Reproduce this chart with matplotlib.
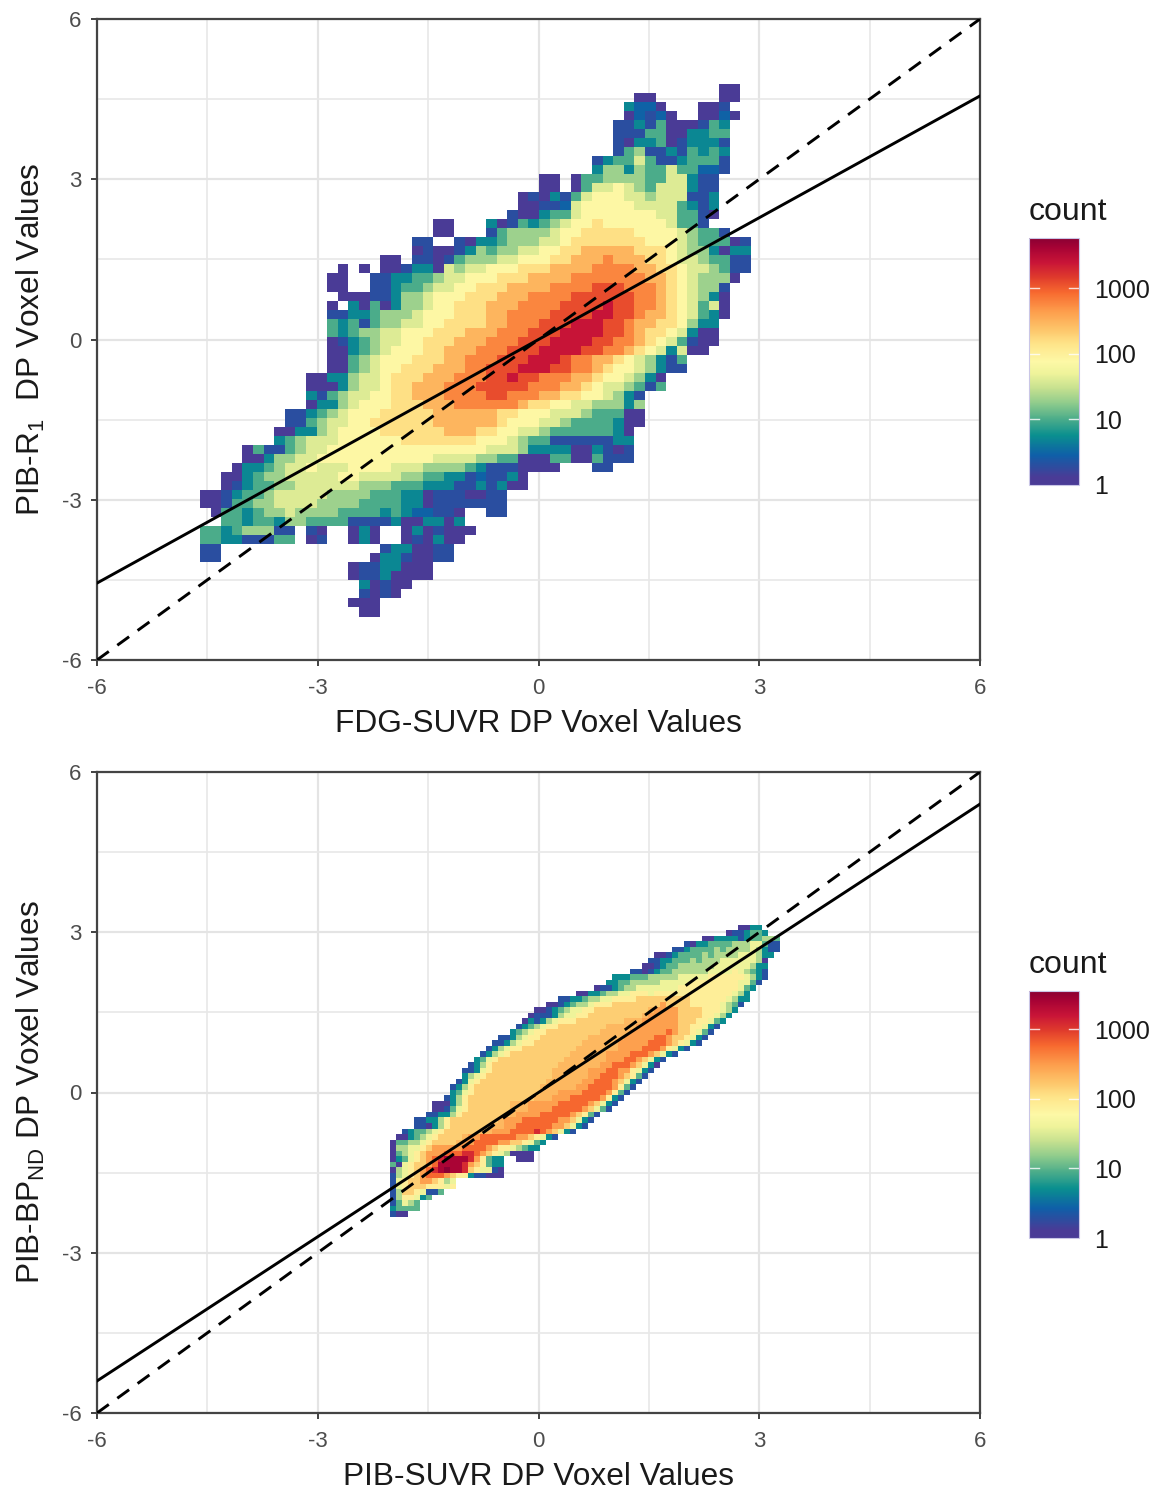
import numpy as np
import matplotlib
matplotlib.use('Agg')
import matplotlib.pyplot as plt
from matplotlib.cm import ScalarMappable
from matplotlib.colors import LinearSegmentedColormap, LogNorm
from matplotlib.ticker import NullLocator

plt.rcParams['font.family'] = ['Liberation Sans', 'DejaVu Sans']
plt.rcParams['mathtext.default'] = 'regular'
plt.rcParams['mathtext.fontset'] = 'custom'
plt.rcParams['mathtext.rm'] = 'Liberation Sans'
plt.rcParams['axes.unicode_minus'] = False

W, H = 1155, 1489

# count class read from the colour of each bin: one character per bin, blank = no voxels
LEVEL_CHARS = '0123456789xabcd'
LEVEL_COUNTS = [1, 2, 3, 5, 10, 20, 40, 80, 150, 300, 210, 600, 1200, 2500, 5000]

# legend colours, bottom to top
RAMP_STOPS = [0.0, 0.03, 0.12, 0.20, 0.27, 0.33, 0.39, 0.45, 0.50, 0.57, 0.63, 0.70, 0.78, 0.84, 0.90, 0.96, 1.0]
RAMP_COLOURS = ['#4a3b96', '#4a3b96', '#0f5fa8', '#0a8f8f', '#4fae8a', '#8ecb8c', '#c5e08f', '#eef39a',
                '#fdf8a6', '#fee58a', '#fdc56a', '#fd9f4d', '#f7692f', '#e03c2c', '#c91537', '#a80335', '#8a0033']

# FDG-SUVR vs PIB-R1, rows run from the top of the cloud down
TOP_X_START = -4.60
TOP_X_BIN = 0.144
TOP_Y_START = 4.785
TOP_Y_BIN = 0.169
TOP_FIRST_BIN = [49, 41, 40, 40, 39, 39, 39, 39, 37, 37, 32, 32, 30, 30, 29, 22, 22, 20, 20, 17,
                 13, 12, 12, 13, 12, 12, 12, 12, 12, 12, 12, 12, 10, 10, 10, 10, 8, 8, 7, 7,
                 4, 4, 3, 2, 2, 0, 0, 1, 2, 0, 0, 0, 0, 14, 14, 15, 15, 14, 15]
TOP_ROWS = [
    "00",
    "00      00",
    "3220   001",
    "02120  0020",
    "11314000143",
    "11144003344",
    "10334013331",
    "14511314343",
    "1344641134441",
    "3553544644221",
    "00 04455554466311",
    "00 04667654666311",
    "0103146777665666113",
    "0011267777766664313",
    "10034467777777664410",
    "00   301434567787777776441",
    "00   14555567788888777765441",
    "11  1033455566788888887776544401",
    "01001354556677889999988876553033",
    "00 11014555667778899" "9a9998876654411",
    "0 0 0013306566777888" "9999aaaa99887665411",
    "00  1133445667778889" "999aaaaaaa998765550",
    "00  1134456677888999" "9aaaabbbaaa9876551",
    "000113556777888999aa" "aabbbbbbaa9876530",
    "0 3040355677888999aa" "aabbbbcbbaa9876460",
    "11334555677788899aaa" "abbbbccbba99876430",
    "43414556677888899aaa" "bbbcccbba99887533",
    "4345566777888999aaab" "bbccccbba98876300",
    "013456677888999aaabb" "bccccbbaa98764100",
    "00345677788999aaabbb" "ccccbbaa98763600",
    "0045677788899aaabbbc" "ccbaa998765314",
    "0045677888999aabbbcc" "cbbaa987765311",
    "00335667888999aaabbc" "bbaaa998776530",
    "0003566788999aaabbbb" "baaa9987665414",
    "3145667788999aaaabba" "aa9988776531",
    "03356777888999aaaaaa" "988776655535",
    "11345677788888999999" "88777666544400",
    "11456677888888999999" "87776654444300",
    "00335677778888889998" "87766544444430",
    "34566677777788888887" "77654411111133",
    "04114566777777777777" "77766653333003101",
    "00355667777777777766" "66554400044004111",
    "03345667666777766655" "55431110000   11",
    "00345566666776666554" "433121130",
    "01344556666665554443" "331131300",
    "00134456666655554443" "301110011",
    "00144556666555544443" "301111111",
    "04434556555544443432" "2110  11",
    "44344355444411113003" "303",
    "443455511 10  030  0" "301000",
    "443311144 01  030  0" "10300",
    "11               1330011",
    "11              03310011",
    "01133000",
    "01130000",
    "30100",
    "1010",
    "000",
    "00",
]

# PIB-SUVR vs PIB-BPND
BOTTOM_X_START = -2.018
BOTTOM_X_BIN = 0.0815
BOTTOM_Y_START = 3.137
BOTTOM_Y_BIN = 0.103
BOTTOM_FIRST_BIN = [58, 56, 52, 49, 47, 44, 43, 42, 40, 37, 36, 34, 31, 28, 26, 24, 23, 22, 21, 20,
                    18, 17, 16, 15, 14, 13, 12, 12, 11, 10, 10, 9, 7, 7, 6, 4, 4, 2, 1, 0,
                    0, 0, 0, 0, 0, 0, 0, 0, 0, 0, 0, 0, 0]
BOTTOM_ROWS = [
    "0033",
    "0113443",
    "0033331344554",
    "1033444455566411",
    "113444454555565311",
    "00134444545555666533",
    "11334445455566666650",
    "001344555555666666533",
    "11013445555556666765431",
    "33344455555666667777776531",
    "33445555566666777777776641",
    "011345566666667777777777643",
    "00334556677767777777777777653",
    "11334556677778888888887777776533",
    "001345567778888888898888777776541",
    "0013456677888888888x99998888777653",
    "0111356677888888888x99999888877653",
    "03135677788888888xxx" "99999988877643",
    "134567788888888xxxxx" "99999998877631",
    "345677888888888xxxxx" "999999a9887641",
    "113567788888888xxxxx" "x99999aa9887631",
    "113567788888888xxxxx" "x99999aaa987631",
    "135677888888888xxxxx" "xx9999aaa97631",
    "135678888888888xxxxx" "x9999aaa98631",
    "346788888888888xxxxx" "xx999aa98631",
    "135788888888888xxxxx" "xx99aaa98630",
    "113678888888888xxxxx" "x999aa997631",
    "356788888888888xxxxx" "x99aaa98741",
    "136788888888888xxxxx" "x99aaa98631",
    "135788888888888xxxxx" "x99aaaa9741",
    "346788888888888xxx99" "99aaaa9741",
    "135788888888888xxx99" "9aaaaa9731",
    "0003578888888xxx9999" "9aaaaa98631",
    "0014678888888xxx9999" "aaaaa98641",
    "11335788888888x9999a" "aaaa98741",
    "11335788888888x999aa" "aaaa998631",
    "1103578888888xx99aaa" "aaa998631",
    "1344567888888xx999aa" "aaba98631",
    "00345678888x99aaaaaa" "9987631",
    "04455678888x99aaaa99" "887643",
    "0556678999" "99aaaa9877" "65433",
    "045678999a" "aabba98765" "0000",
    "0346789abc" "cccb97433  000",
    "4067889acc" "ccb987433",
    "056789abcd" "ccb876610",
    "156789aaa9" "877311000",
    "16788998756",
    "16788877767",
    "158876114",
    "1577634",
    "14654",
    "34444",
    "100",
]

# fitted line slopes, dashed line is identity
TOP_FIT_SLOPE = 0.76
BOTTOM_FIT_SLOPE = 0.90
LINE_ENDS = [-6, 6]
IDENTITY_SLOPE = 1.0

TOP_VMAX = 5800
BOTTOM_VMAX = 3560
LEGEND_TICKS = [1, 10, 100, 1000]
AXIS_TICKS = [-6, -3, 0, 3, 6]
MINOR_TICKS = [-4.5, -1.5, 1.5, 4.5]

ramp = LinearSegmentedColormap.from_list('count_ramp', list(zip(RAMP_STOPS, RAMP_COLOURS)), N=512)


def rows_to_counts(rows, first_bin):
    ncol = max(f + len(r) for f, r in zip(first_bin, rows))
    counts = np.full((len(rows), ncol), np.nan)
    for i, (f, row) in enumerate(zip(first_bin, rows)):
        for j, ch in enumerate(row):
            if ch != ' ':
                counts[i, f + j] = LEVEL_COUNTS[LEVEL_CHARS.index(ch)]
    return counts


def draw_panel(box, cbox, rows, first_bin, x0, dx, y0, dy, vmax, slope, xlabel, ylabel):
    left, top, right, bottom = box
    ax = fig.add_axes([left / W, 1 - bottom / H, (right - left) / W, (bottom - top) / H])
    counts = rows_to_counts(rows, first_bin)
    xedges = x0 + dx * np.arange(counts.shape[1] + 1)
    yedges = y0 - dy * np.arange(counts.shape[0] + 1)
    norm = LogNorm(vmin=1, vmax=vmax)
    ax.pcolormesh(xedges, yedges, np.ma.masked_invalid(counts), cmap=ramp, norm=norm,
                  zorder=2, linewidth=0, rasterized=True)

    ends = np.array(LINE_ENDS)
    ax.plot(ends, IDENTITY_SLOPE * ends, color='black', lw=2.1, ls=(0, (5, 3.6)), zorder=3)
    ax.plot(ends, slope * ends, color='black', lw=2.1, zorder=3)

    ax.set_xlim(-6, 6)
    ax.set_ylim(-6, 6)
    ax.set_xticks(AXIS_TICKS)
    ax.set_yticks(AXIS_TICKS)
    ax.set_xticks(MINOR_TICKS, minor=True)
    ax.set_yticks(MINOR_TICKS, minor=True)
    ax.grid(True, which='major', color='#e4e4e4', lw=1.6, zorder=0)
    ax.grid(True, which='minor', color='#e8e8e8', lw=1.2, zorder=0)
    ax.set_axisbelow(True)
    ax.tick_params(which='major', length=4, width=1.3, color='#333333', labelcolor='#4d4d4d',
                   labelsize=16)
    ax.tick_params(axis='x', which='major', pad=9)
    ax.tick_params(axis='y', which='major', pad=7)
    ax.tick_params(which='minor', length=0)
    for s in ax.spines.values():
        s.set_color('#444444')
        s.set_linewidth(1.6)

    ax.set_xlabel(xlabel, fontsize=22.8, va='center', color='#1a1a1a')
    ax.set_ylabel(ylabel, fontsize=22.8, va='center', color='#1a1a1a')
    ax.xaxis.set_label_coords(0.5, -0.1)
    ax.yaxis.set_label_coords(-0.075, 0.5)

    cl, ct, cr, cb = cbox
    cax = fig.add_axes([cl / W, 1 - cb / H, (cr - cl) / W, (cb - ct) / H])
    cbar = fig.colorbar(ScalarMappable(norm=norm, cmap=ramp), cax=cax)
    cbar.set_ticks(LEGEND_TICKS)
    cbar.set_ticklabels([str(t) for t in LEGEND_TICKS])
    cax.yaxis.set_minor_locator(NullLocator())
    cax.tick_params(length=0, labelsize=18, pad=11, labelcolor='#1a1a1a')
    cbar.outline.set_edgecolor('#c9c6e6')
    cbar.outline.set_linewidth(0.8)
    trans = cax.get_yaxis_transform()
    for t in LEGEND_TICKS[1:]:
        cax.plot([0, 0.2], [t, t], color='white', lw=1.0, alpha=0.8, transform=trans)
        cax.plot([0.8, 1], [t, t], color='white', lw=1.0, alpha=0.8, transform=trans)
    fig.text(cl / W, 1 - (ct - 26) / H, 'count', fontsize=23, va='center', ha='left', color='#1a1a1a')


fig = plt.figure(figsize=(W / 100, H / 100), dpi=100)

draw_panel((97, 19, 980, 660), (1029, 238, 1079, 485),
           TOP_ROWS, TOP_FIRST_BIN, TOP_X_START, TOP_X_BIN, TOP_Y_START, TOP_Y_BIN,
           TOP_VMAX, TOP_FIT_SLOPE,
           'FDG-SUVR DP Voxel Values', r'PIB-R$_1$  DP Voxel Values')
draw_panel((97, 772, 980, 1413), (1029, 991, 1079, 1238),
           BOTTOM_ROWS, BOTTOM_FIRST_BIN, BOTTOM_X_START, BOTTOM_X_BIN, BOTTOM_Y_START, BOTTOM_Y_BIN,
           BOTTOM_VMAX, BOTTOM_FIT_SLOPE,
           'PIB-SUVR DP Voxel Values', r'PIB-BP$_{ND}$ DP Voxel Values')

plt.savefig('out.png', dpi=100)
